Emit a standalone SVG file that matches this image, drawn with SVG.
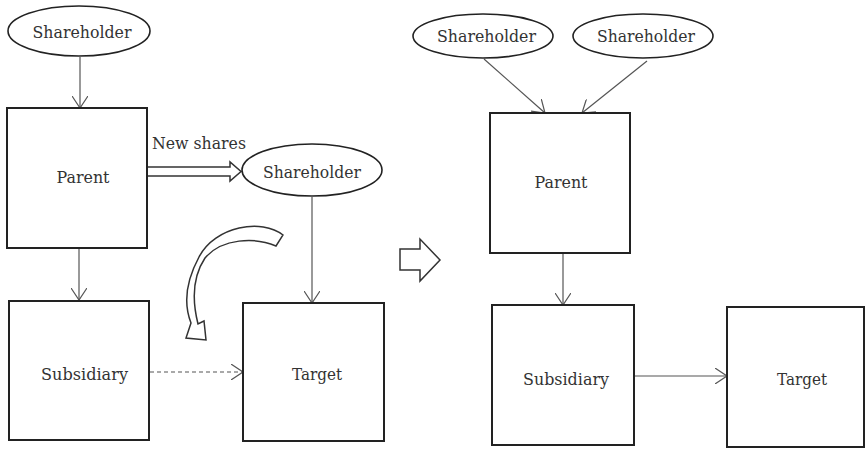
<svg xmlns="http://www.w3.org/2000/svg" width="865" height="449" viewBox="0 0 865 449">
<defs>
<style>
.box{fill:#fff;stroke:#222;stroke-width:2}
.ell{fill:#fff;stroke:#222;stroke-width:1.6}
.lbl{font-family:'DejaVu Serif','Liberation Serif',serif;font-size:17px;fill:#333;text-anchor:middle}
.con{stroke:#555;stroke-width:1.2;fill:none;marker-end:url(#open)}
.blk{fill:#fff;stroke:#333;stroke-width:1.5;stroke-linejoin:miter}
</style>
<marker id="open" markerUnits="userSpaceOnUse" viewBox="0 0 12 16" refX="12" refY="8" markerWidth="12" markerHeight="16" orient="auto">
<path d="M0,0 L12,8 L0,16" fill="none" stroke="#555" stroke-width="1.2"/>
</marker>
</defs>
<rect width="865" height="449" fill="#fff"/>

<g id="connectors">
<line class="con" x1="80" y1="57" x2="80" y2="108"/>
<line class="con" x1="79" y1="248" x2="79" y2="300"/>
<line class="con" x1="150" y1="372" x2="243" y2="372" stroke-dasharray="4,3"/>
<line class="con" x1="312" y1="197" x2="312" y2="303"/>
<line class="con" x1="484" y1="59" x2="545" y2="113"/>
<line class="con" x1="647" y1="61" x2="582" y2="113"/>
<line class="con" x1="563" y1="253" x2="563" y2="305"/>
<line class="con" x1="634" y1="376" x2="727" y2="376"/>
<path id="new-shares-arrow" class="blk" d="M148,167 L230,167 L230,162 L241,171.5 L230,181 L230,176 L148,176"/>
<path id="curved-arrow" class="blk" d="M283,235 C262,218 215,226 199,257 C185,283 184,305 191,323 L186,338 L206,340 L204,321 L198,324 C192,300 193,276 205,258 C222,238 255,237 276,246 Z"/>
<path id="transition-arrow" class="blk" d="M400,249 L420,249 L420,239 L440,260 L420,281 L420,270 L400,270 Z"/>
</g>

<g id="shareholder-1">
<ellipse class="ell" cx="79" cy="31" rx="71" ry="25"/>
<text class="lbl" x="82" y="38" textLength="99" lengthAdjust="spacingAndGlyphs">Shareholder</text>
</g>
<g id="parent-1">
<rect class="box" x="7" y="108" width="140" height="140"/>
<text class="lbl" x="83" y="183" textLength="53" lengthAdjust="spacingAndGlyphs">Parent</text>
</g>
<g id="new-shares-label">
<text class="lbl" x="199" y="149" textLength="94" lengthAdjust="spacingAndGlyphs">New shares</text>
</g>
<g id="shareholder-2">
<ellipse class="ell" cx="312" cy="170" rx="70" ry="26"/>
<text class="lbl" x="312" y="178" textLength="98" lengthAdjust="spacingAndGlyphs">Shareholder</text>
</g>
<g id="subsidiary-1">
<rect class="box" x="9" y="301" width="140" height="139"/>
<text class="lbl" x="84.5" y="380" textLength="87" lengthAdjust="spacingAndGlyphs">Subsidiary</text>
</g>
<g id="target-1">
<rect class="box" x="243" y="303" width="141" height="138"/>
<text class="lbl" x="317" y="380" textLength="50" lengthAdjust="spacingAndGlyphs">Target</text>
</g>

<g id="shareholder-3">
<ellipse class="ell" cx="483" cy="36" rx="70" ry="22"/>
<text class="lbl" x="486.5" y="42" textLength="99" lengthAdjust="spacingAndGlyphs">Shareholder</text>
</g>
<g id="shareholder-4">
<ellipse class="ell" cx="643" cy="36" rx="70" ry="22"/>
<text class="lbl" x="646" y="42" textLength="98" lengthAdjust="spacingAndGlyphs">Shareholder</text>
</g>
<g id="parent-2">
<rect class="box" x="490" y="113" width="140" height="140"/>
<text class="lbl" x="561" y="188" textLength="53" lengthAdjust="spacingAndGlyphs">Parent</text>
</g>
<g id="subsidiary-2">
<rect class="box" x="492" y="305" width="142" height="140"/>
<text class="lbl" x="566" y="385" textLength="86" lengthAdjust="spacingAndGlyphs">Subsidiary</text>
</g>
<g id="target-2">
<rect class="box" x="727" y="307" width="137" height="140"/>
<text class="lbl" x="802" y="385" textLength="50" lengthAdjust="spacingAndGlyphs">Target</text>
</g>
</svg>
